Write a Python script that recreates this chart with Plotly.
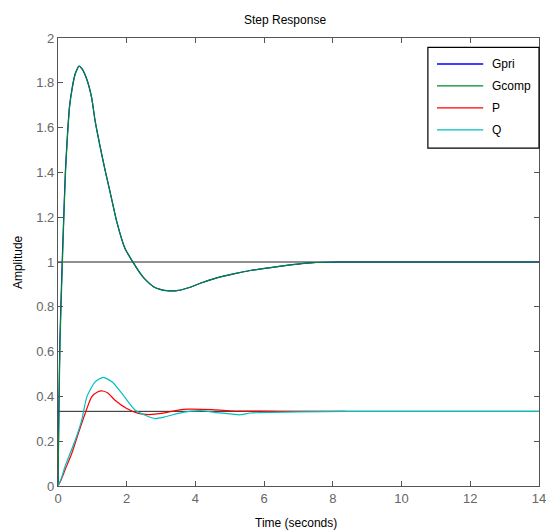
import plotly.graph_objects as go

# ---- data ----
gcomp_t = [0, 0.03, 0.06, 0.117, 0.16, 0.22, 0.28, 0.34, 0.42, 0.50, 0.56, 0.61, 0.70, 0.84, 0.98,
           1.08, 1.22, 1.37, 1.52, 1.71, 1.95, 2.20, 2.39, 2.49, 2.78, 3.0, 3.17, 3.46, 3.8, 4.14,
           4.6, 5.11, 5.6, 6.08, 6.6, 7.06, 7.35, 8.2, 14]
gcomp_y = [0, 0.35, 0.65, 0.943, 1.15, 1.405, 1.57, 1.696, 1.78, 1.838, 1.862, 1.875, 1.862, 1.815, 1.733,
           1.63, 1.52, 1.41, 1.31, 1.18, 1.06, 0.995, 0.95, 0.93, 0.89, 0.877, 0.872, 0.872, 0.885, 0.905,
           0.928, 0.947, 0.962, 0.973, 0.984, 0.992, 0.996, 1.0, 1.0]

gpri_t = [0, 0.025, 0.055, 0.11, 0.155, 0.215, 0.275, 0.335, 0.415, 0.495, 0.56, 0.61, 0.70, 0.84, 0.98,
          1.08, 1.22, 1.37, 1.52, 1.71, 1.95, 2.20, 2.39, 2.49, 2.78, 3.0, 3.17, 3.46, 3.8, 4.14,
          4.6, 5.11, 5.6, 6.08, 6.6, 7.06, 7.35, 8.2, 14]
gpri_y = gcomp_y

p_t = [0, 0.1, 0.2, 0.4, 0.59, 0.79, 0.98, 1.15, 1.30, 1.45, 1.66, 2.0, 2.34, 2.63, 3.02, 3.5, 3.8,
       4.48, 5.0, 6.0, 7.0, 8.37]
p_y = [0, 0.03, 0.07, 0.145, 0.234, 0.324, 0.398, 0.42, 0.424, 0.415, 0.383, 0.346, 0.324, 0.319,
       0.324, 0.339, 0.343, 0.341, 0.336, 0.334, 0.333, 0.333]

q_t = [0, 0.1, 0.2, 0.5, 0.69, 0.84, 1.08, 1.32, 1.57, 1.86, 2.24, 2.54, 2.83, 3.12, 3.5, 3.9, 4.2,
       4.6, 5.0, 5.3, 5.6, 6.2, 7.0, 8.4, 14]
q_y = [0, 0.035, 0.085, 0.204, 0.294, 0.398, 0.465, 0.485, 0.465, 0.413, 0.339, 0.316, 0.301, 0.309,
       0.324, 0.334, 0.336, 0.328, 0.322, 0.318, 0.326, 0.329, 0.331, 0.333, 0.333]

steady_levels = [1.0, 1 / 3]
t_range = [0, 14]

series_names = ["Gpri", "Gcomp", "P", "Q"]
series_colors = ["#0000ff", "#008a2e", "#ff0000", "#00bfbf"]

x_ticks = [0, 2, 4, 6, 8, 10, 12, 14]
y_ticks = [0, 0.2, 0.4, 0.6, 0.8, 1.0, 1.2, 1.4, 1.6, 1.8, 2.0]
y_tick_text = ["0", "0.2", "0.4", "0.6", "0.8", "1", "1.2", "1.4", "1.6", "1.8", "2"]

FONT = "Liberation Sans, Arial, sans-serif"

fig = go.Figure()

for lvl in steady_levels:
    fig.add_trace(go.Scatter(x=t_range, y=[lvl, lvl], mode="lines",
                             line=dict(color="#202020", width=1), hoverinfo="skip"))

data = [(gpri_t, gpri_y), (gcomp_t, gcomp_y), (p_t, p_y), (q_t, q_y)]
for (t, y), name, col in zip(data, series_names, series_colors):
    fig.add_trace(go.Scatter(x=t, y=y, mode="lines", name=name,
                             line=dict(color=col, width=1.2, shape="spline", smoothing=0.6)))

# ---- custom MATLAB-like legend ----
shapes = [dict(type="rect", xref="paper", yref="paper", x0=0.769, x1=1.0, y0=0.754, y1=0.979,
               line=dict(color="#000000", width=1.2), fillcolor="white", layer="above")]
annotations = []
ys = [0.942, 0.893, 0.844, 0.795]
for name, col, yy in zip(series_names, series_colors, ys):
    shapes.append(dict(type="line", xref="paper", yref="paper", x0=0.788, x1=0.884, y0=yy, y1=yy,
                       line=dict(color=col, width=1.3), layer="above"))
    annotations.append(dict(text=name, xref="paper", yref="paper", x=0.898, y=yy,
                            xanchor="left", yanchor="middle", showarrow=False,
                            font=dict(family=FONT, size=12, color="#000000")))

annotations += [
    dict(text="Step Response", xref="paper", yref="paper", x=0.472, y=1.040,
         xanchor="center", yanchor="middle", showarrow=False,
         font=dict(family=FONT, size=12, color="#000000")),
    dict(text="Time (seconds)", xref="paper", yref="paper", x=0.495, y=-0.083,
         xanchor="center", yanchor="middle", showarrow=False,
         font=dict(family=FONT, size=12, color="#000000")),
    dict(text="Amplitude", xref="paper", yref="paper", x=-0.083, y=0.5, textangle=-90,
         xanchor="center", yanchor="middle", showarrow=False,
         font=dict(family=FONT, size=12, color="#000000")),
]

axis_common = dict(showgrid=False, zeroline=False, showline=True, linecolor="#555555", linewidth=1.2,
                   mirror="ticks", ticks="inside", ticklen=5, tickcolor="#555555",
                   ticklabeloverflow="allow", automargin=False,
                   tickfont=dict(family=FONT, size=13, color="#666666"))

fig.update_layout(
    width=546, height=531,
    margin=dict(l=58, r=7, t=38, b=45),
    paper_bgcolor="white", plot_bgcolor="white",
    showlegend=False, hovermode=False,
    shapes=shapes, annotations=annotations,
    xaxis=dict(range=[0, 14], tickvals=x_ticks, ticktext=[str(v) for v in x_ticks], **axis_common),
    yaxis=dict(range=[0, 2], tickvals=y_ticks, ticktext=y_tick_text, **axis_common),
)

fig.write_html("out.html", config={"displayModeBar": False},
               post_script="document.body.style.margin='0';document.body.style.overflow='hidden';")
